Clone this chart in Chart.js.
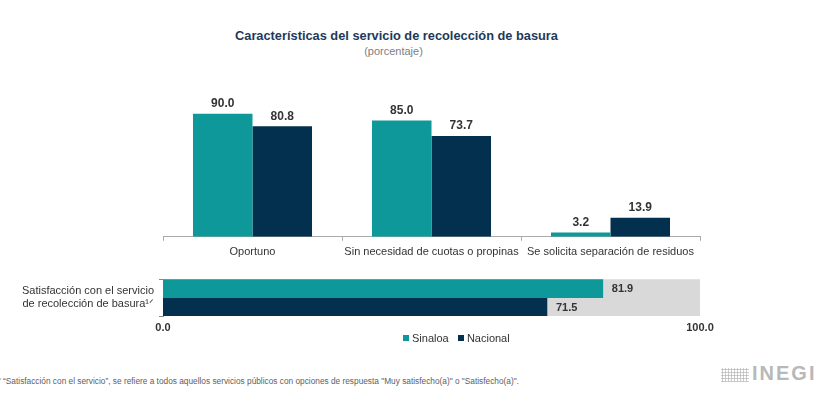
<!DOCTYPE html>
<html><head><meta charset="utf-8">
<script src="https://cdn.jsdelivr.net/npm/chart.js@4.4.1/dist/chart.umd.min.js"></script>
<style>
html,body{margin:0;padding:0;background:#fff;width:825px;height:401px;overflow:hidden;font-family:"Liberation Sans",Arial,sans-serif;}
.abs{position:absolute;}
#title{left:0;width:793px;top:28px;text-align:center;font-weight:bold;font-size:12.8px;color:#1d3a5c;}
#sub{left:0;width:787px;top:45px;text-align:center;font-size:11px;color:#808080;}
#legend{left:403px;top:332px;font-size:11px;color:#333;white-space:nowrap;}
#legend span.sq{display:inline-block;width:6px;height:6px;margin-right:3px;vertical-align:1px;}
#foot{left:-5px;top:376px;font-size:8.3px;color:#606060;white-space:nowrap;}
#logo{left:752px;top:362px;font-size:20px;font-weight:bold;color:#b8b8b8;letter-spacing:2px;}
#icon{left:721px;top:368px;width:28px;height:14px;background-image:radial-gradient(#bdbdbd 45%,transparent 55%);background-size:3px 3px;}
</style></head>
<body>
<div id="title" class="abs">Características del servicio de recolección de basura</div>
<div id="sub" class="abs">(porcentaje)</div>
<div class="abs" style="left:0;top:60px;width:825px;height:205px;"><canvas id="top"></canvas></div>
<div class="abs" style="left:0;top:261px;width:825px;height:84px;"><canvas id="bot"></canvas></div>
<div id="legend" class="abs"><span class="sq" style="background:#0e9899"></span>Sinaloa&nbsp;&nbsp;&nbsp;<span class="sq" style="background:#04304f"></span>Nacional</div>
<div id="foot" class="abs">¹ᐟ “Satisfacción con el servicio”, se refiere a todos aquellos servicios públicos con opciones de respuesta "Muy satisfecho(a)" o "Satisfecho(a)".</div>
<div id="icon" class="abs"></div>
<div id="logo" class="abs">INEGI</div>
<script>
const categories = ["Oportuno", "Sin necesidad de cuotas o propinas", "Se solicita separación de residuos"];
const sinaloa = [90.0, 85.0, 3.2];
const nacional = [80.8, 73.7, 13.9];
const satisfCategory = [["Satisfacción con el servicio", "de recolección de basura¹ᐟ"]];
const satisfSinaloa = [81.9];
const satisfNacional = [71.5];
const satisfTotal = [100];
const seriesNames = ["Sinaloa", "Nacional"];
const xTicks = [0, 100];

const TEAL = "#0e9899", NAVY = "#04304f", GREY = "#d9d9d9";
const FONT = "'Liberation Sans', Arial, sans-serif";

const labelPlugin = {
  id: "valueLabels",
  afterDatasetsDraw(chart, args, opts) {
    const ctx = chart.ctx;
    ctx.save();
    chart.data.datasets.forEach((ds, di) => {
      if (ds.noLabel) return;
      const meta = chart.getDatasetMeta(di);
      meta.data.forEach((bar, i) => {
        const v = ds.data[i];
        ctx.fillStyle = "#333";
        if (opts.horizontal) {
          ctx.font = "bold 11px " + FONT;
          ctx.textAlign = "left"; ctx.textBaseline = "middle";
          ctx.fillText(v.toFixed(1), bar.x + 9, bar.y + 1);
        } else {
          ctx.font = "bold 12px " + FONT;
          ctx.textAlign = "center"; ctx.textBaseline = "bottom";
          ctx.fillText(v.toFixed(1), bar.x, bar.y - 4);
        }
      });
    });
    ctx.restore();
  }
};

new Chart(document.getElementById("top"), {
  type: "bar",
  data: {
    labels: categories,
    datasets: [
      {label: seriesNames[0], data: sinaloa, backgroundColor: TEAL, categoryPercentage: 0.665, barPercentage: 1},
      {label: seriesNames[1], data: nacional, backgroundColor: NAVY, categoryPercentage: 0.665, barPercentage: 1}
    ]
  },
  options: {
    responsive: true, maintainAspectRatio: false, animation: false,
    layout: {padding: {left: 163, right: 125, top: 40, bottom: 1}},
    plugins: {legend: {display: false}, tooltip: {enabled: false}, valueLabels: {horizontal: false}},
    scales: {
      y: {display: false, min: 0, max: 100},
      x: {
        border: {display: true, color: "#aaa"},
        grid: {display: true, drawOnChartArea: false, offset: true, tickLength: 4, color: "#aaa"},
        ticks: {color: "#333", font: {family: FONT, size: 11}, padding: 5, maxRotation: 0}
      }
    }
  },
  plugins: [labelPlugin]
});

new Chart(document.getElementById("bot"), {
  type: "bar",
  data: {
    labels: satisfCategory,
    datasets: [
      {label: seriesNames[0], data: satisfSinaloa, backgroundColor: TEAL, categoryPercentage: 1, barPercentage: 1, order: 0},
      {label: seriesNames[1], data: satisfNacional, backgroundColor: NAVY, categoryPercentage: 1, barPercentage: 1, order: 0},
      {label: "total", data: satisfTotal, backgroundColor: GREY, categoryPercentage: 1, barPercentage: 1, order: 1, grouped: false, noLabel: true}
    ]
  },
  options: {
    indexAxis: "y",
    responsive: true, maintainAspectRatio: false, animation: false,
    layout: {padding: {left: 0, right: 125, top: 0, bottom: 0}},
    plugins: {legend: {display: false}, tooltip: {enabled: false}, valueLabels: {horizontal: true}},
    scales: {
      x: {
        min: 0, max: 100,
        border: {display: false},
        grid: {display: false, drawTicks: false},
        afterBuildTicks: (s) => { s.ticks = xTicks.map(v => ({value: v})); },
        afterFit: (s) => { s.height = 29; },
        ticks: {color: "#333", font: {family: FONT, size: 11, weight: "bold"}, padding: 5, callback: (v) => Number(v).toFixed(1)}
      },
      y: {
        border: {display: true, color: "#888"},
        grid: {display: true, drawOnChartArea: false, offset: true, tickLength: 4, color: "#888"},
        afterFit: (s) => { s.width = 163; },
        ticks: {color: "#333", font: {family: FONT, size: 11}, padding: 5, lineHeight: 1.1}
      }
    }
  },
  plugins: [labelPlugin]
});
</script>
</body></html>
